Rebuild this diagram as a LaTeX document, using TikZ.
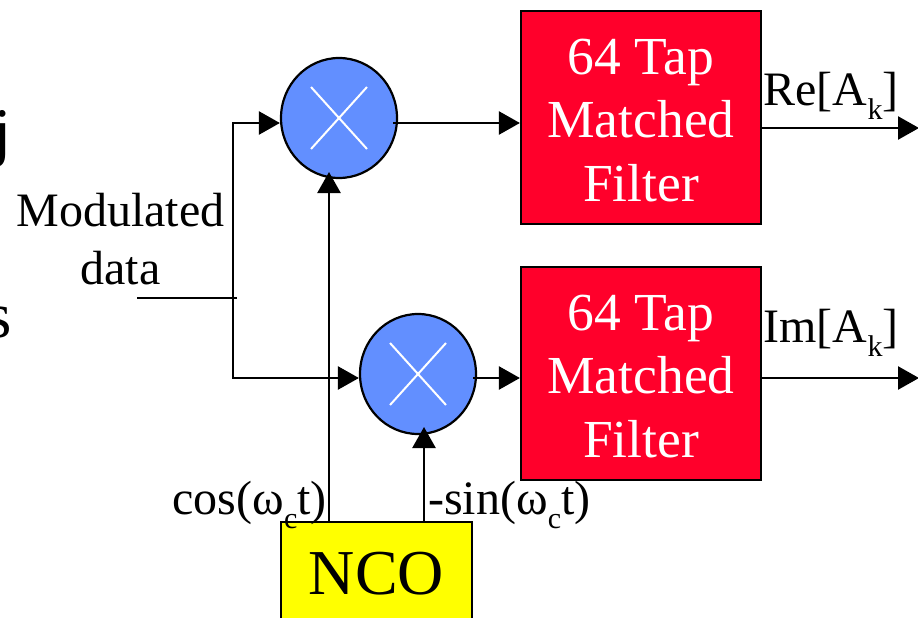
\documentclass[tikz,border=0pt]{standalone}
\usepackage{fontspec}
\setmainfont{Liberation Serif}
\usetikzlibrary{arrows.meta,shapes.geometric}
\newcommand{\lowtext}[1]{\raisebox{-0.3em}{\fontsize{30}{30}\selectfont #1}}
\definecolor{mixblue}{RGB}{98,143,255}
\definecolor{filterred}{RGB}{255,0,43}
\definecolor{ncoyellow}{RGB}{255,255,0}
\tikzset{
mixer/.style={ellipse,draw,line width=2.2pt,fill=mixblue,minimum width=116pt,minimum height=120pt,inner sep=0pt},
filterbox/.style={draw,line width=2.2pt,fill=filterred,minimum width=240pt,minimum height=213pt,inner sep=0pt},
filtertext/.style={text=white,align=center,inner sep=0pt,font=\fontsize{53.5}{63.5}\selectfont},
ncobox/.style={draw,line width=2.2pt,fill=ncoyellow,minimum width=191pt,minimum height=104pt,inner sep=0pt},
signal/.style={inner sep=0pt,font=\fontsize{48}{48}\selectfont},
cuttext/.style={inner sep=0pt,anchor=base east,font=\fontsize{65}{65}\selectfont},
wire/.style={line width=2.4pt}
}
\begin{document}
\begin{tikzpicture}[x=1pt,y=-1pt,line join=miter,>={Triangle[length=21pt,width=23pt]}]
\useasboundingbox (0,0) rectangle (918,618);
\clip (0,0) rectangle (918,618);
\path
(137,298) coordinate (IN)
(233,298) coordinate (T)
(237,298) coordinate (T')
(233,123) coordinate (U)
(233,378) coordinate (L)
(393,123) coordinate (UO)
(473,378) coordinate (LO)
(329,522) coordinate (C)
(329,172) coordinate (CI)
(424,522) coordinate (S)
(424,427) coordinate (SI)
(919,128) coordinate (ReOut)
(919,378) coordinate (ImOut)
;
\node[mixer] (mixI) at (339,118) {};
\node[mixer] (mixQ) at (418,374) {};
\node[filterbox] (firI) at (641,117.5) {};
\node[filterbox] (firQ) at (641,373.5) {};
\node[filtertext] (txtI) at (641,120.5) {64 Tap\\Matched\\Filter};
\node[filtertext] (txtQ) at (641,376.5) {64 Tap\\Matched\\Filter};
\node[ncobox,font=\fontsize{64}{64}\selectfont] (nco) at (376.5,574) {NCO};
\foreach \m in {mixI,mixQ}
\draw[white,line width=2pt] (\m.center) +(-28,-31) -- +(28,31) (\m.center) +(28,-31) -- +(-28,31);
% input and carriers
\draw[wire] (IN)--(T');
\draw[wire,->] (T)--(U)--(mixI.west|-U);
\draw[wire,->] (T)--(L)--(mixQ.west|-L);
\draw[wire,->] (C)--(CI);
\draw[wire,->] (S)--(SI);
% filter paths
\draw[wire,->] (UO)--(firI.west|-UO);
\draw[wire,->] (LO)--(firQ.west|-LO);
\draw[wire,->] (firI.east|-ReOut)--(ReOut);
\draw[wire,->] (firQ.east|-ImOut)--(ImOut);
% labels
\node[align=center,inner sep=0pt,font=\fontsize{48}{58}\selectfont] (lbl) at (120.5,239) {Modulated\\data};
\node[signal,anchor=base] (re) at (831,105) {Re[A\lowtext{k}]};
\node[signal,anchor=base] (im) at (831,342) {Im[A\lowtext{k}]};
\node[signal,anchor=base east] (cos) at (327,514) {cos(ω\lowtext{c}t)};
\node[signal,anchor=base west] (sin) at (428,514) {-sin(ω\lowtext{c}t)};
\node[cuttext] (cutj) at (12,153) {j};
\node[cuttext] (cuts) at (12,337) {s};
\end{tikzpicture}
\end{document}
